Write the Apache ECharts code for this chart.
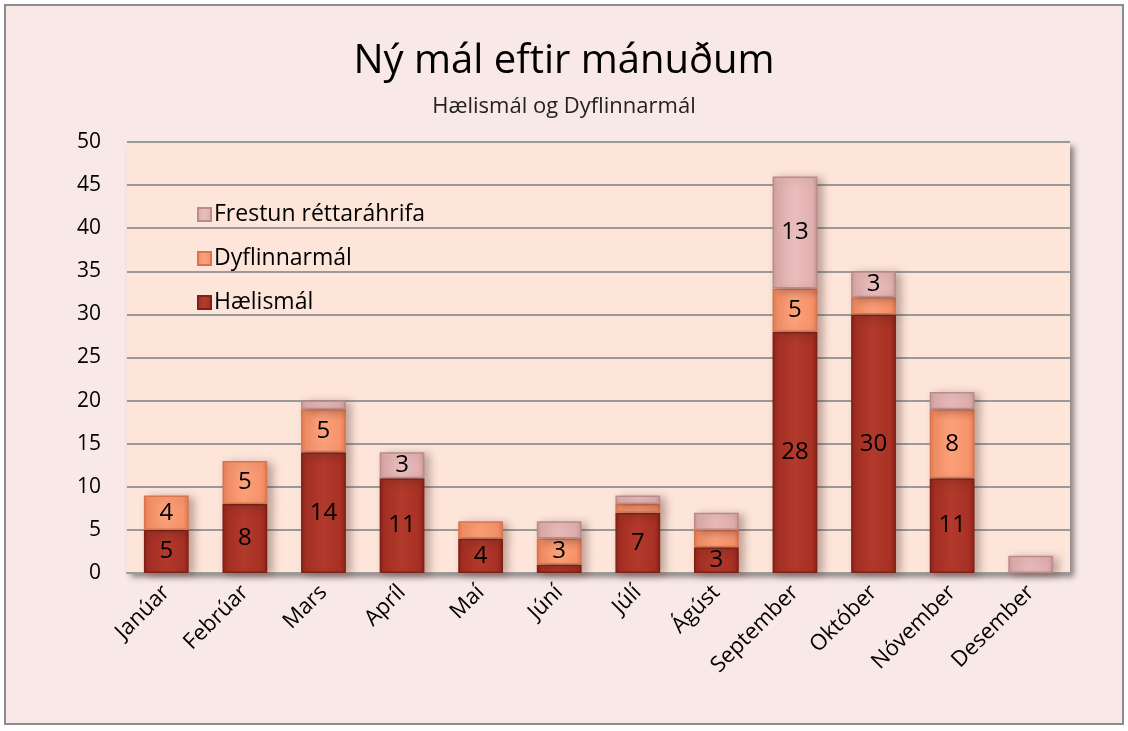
<!DOCTYPE html>
<html>
<head>
<meta charset="utf-8">
<script src="https://cdn.jsdelivr.net/npm/echarts@6/dist/echarts.min.js"></script>
<style>
  html, body { margin: 0; padding: 0; background: #ffffff; }
  #main { width: 1128px; height: 731px; }
</style>
</head>
<body>
<div id="main"></div>
<script>
// gögn lesin af myndinni
const months = ['Janúar', 'Febrúar', 'Mars', 'Apríl', 'Maí', 'Júní', 'Júlí', 'Ágúst', 'September', 'Október', 'Nóvember', 'Desember'];
const haelismal = [5, 8, 14, 11, 4, 1, 7, 3, 28, 30, 11, 0];
const dyflinnarmal = [4, 5, 5, 0, 2, 3, 1, 2, 5, 2, 8, 0];
const frestun = [0, 0, 1, 3, 0, 2, 1, 2, 13, 3, 2, 2];
const yTicks = [0, 5, 10, 15, 20, 25, 30, 35, 40, 45, 50];

const font = '"Open Sans", "Noto Sans", sans-serif';

function grad(light, mid, dark) {
  return {
    type: 'linear', x: 0, y: 0, x2: 1, y2: 0,
    colorStops: [
      { offset: 0, color: dark },
      { offset: 0.12, color: mid },
      { offset: 0.5, color: light },
      { offset: 0.88, color: mid },
      { offset: 1, color: dark }
    ]
  };
}

function makeSeries(name, data, color, border) {
  return {
    name: name,
    type: 'bar',
    stack: 'total',
    barWidth: '57%',
    // 0 gildi teiknast ekki
    data: data.map(function (v) { return v === 0 ? '-' : v; }),
    itemStyle: {
      color: color,
      borderColor: border,
      borderWidth: 1.5,
      shadowColor: 'rgba(80,40,30,0.35)',
      shadowBlur: 8,
      shadowOffsetX: 5,
      shadowOffsetY: 2
    },
    label: {
      show: true,
      position: 'inside',
      color: '#000',
      fontFamily: font,
      fontSize: 24,
      formatter: function (p) { return p.value >= 3 ? p.value : ''; }
    }
  };
}

let chart = echarts.init(document.getElementById('main'));

let option = {
  backgroundColor: '#ffffff',
  animation: false,
  graphic: [{
    type: 'rect',
    z: -10,
    shape: { x: 5, y: 5, width: 1118, height: 719 },
    style: { fill: '#f9e9e6', stroke: '#8c8c8c', lineWidth: 2 }
  }],
  title: {
    text: 'Ný mál eftir mánuðum',
    subtext: 'Hælismál og Dyflinnarmál',
    left: 'center',
    top: 37,
    itemGap: 14,
    textStyle: { fontFamily: font, fontSize: 40, fontWeight: 'normal', color: '#000' },
    subtextStyle: { fontFamily: font, fontSize: 22, color: '#222' }
  },
  legend: {
    orient: 'vertical',
    left: 192,
    top: 198,
    itemGap: 21,
    itemWidth: 13,
    itemHeight: 13,
    icon: 'rect',
    data: ['Frestun réttaráhrifa', 'Dyflinnarmál', 'Hælismál'],
    textStyle: { fontFamily: font, fontSize: 23, color: '#000', padding: [0, 0, 0, -2] }
  },
  grid: {
    left: 127,
    right: 58,
    top: 142,
    bottom: 158,
    show: true,
    backgroundColor: '#fde5da',
    borderColor: '#9a9a9a',
    borderWidth: 0,
    shadowColor: 'rgba(0,0,0,0.45)',
    shadowBlur: 6,
    shadowOffsetX: 4,
    shadowOffsetY: 4
  },
  xAxis: {
    type: 'category',
    data: months,
    axisTick: { show: false },
    axisLine: { show: true, lineStyle: { color: '#9a9a9a', width: 2 } },
    axisLabel: {
      rotate: 45,
      interval: 0,
      margin: 16,
      fontFamily: font,
      fontSize: 22,
      color: '#000'
    }
  },
  yAxis: {
    type: 'value',
    min: yTicks[0],
    max: yTicks[yTicks.length - 1],
    interval: 5,
    axisLine: { show: false },
    axisTick: { show: false },
    axisLabel: { fontFamily: font, fontSize: 21, color: '#000', margin: 26 },
    splitLine: { lineStyle: { color: '#9a9a9a', width: 2 } }
  },
  series: [
    makeSeries('Hælismál', haelismal, grad('#b13a2c', '#a83024', '#8e2319'), '#7f2018'),
    makeSeries('Dyflinnarmál', dyflinnarmal, grad('#fba07a', '#f7936a', '#e67d55'), '#d8754f'),
    makeSeries('Frestun réttaráhrifa', frestun, grad('#e9bdbd', '#e2b1b1', '#cf9c9c'), '#b88c8c')
  ]
};

chart.setOption(option);
</script>
</body>
</html>
